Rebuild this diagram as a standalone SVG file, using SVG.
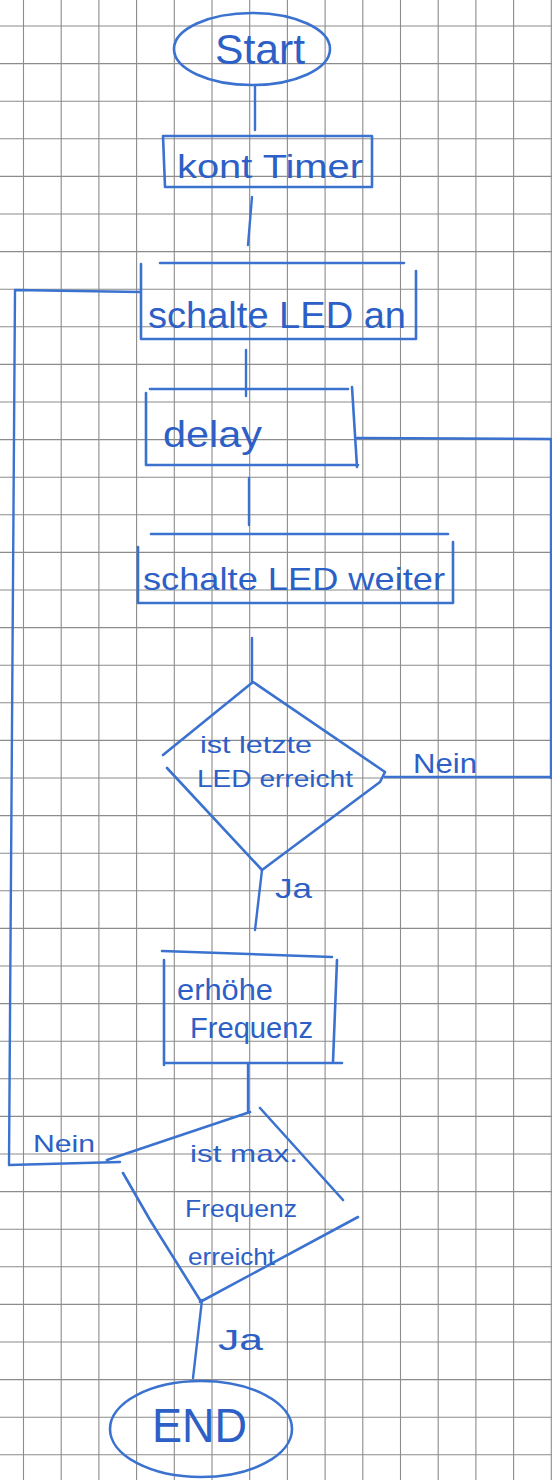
<svg xmlns="http://www.w3.org/2000/svg" width="552" height="1480" viewBox="0 0 552 1480">
<style>
.grid{stroke:#8c8c8c;stroke-width:1.1;fill:none}
.ink{stroke:#3b72d0;stroke-width:2.6;fill:none;stroke-linecap:round;stroke-linejoin:round}
.con{stroke:#3b72d0;stroke-width:2.4;fill:none;stroke-linecap:round;stroke-linejoin:round}
text{font-family:"Liberation Sans","DejaVu Sans",sans-serif;fill:#2d60c6}
</style>
<rect x="0" y="0" width="552" height="1480" fill="#ffffff"/>
<path class="grid" d="M23.5,0V1480M61.2,0V1480M98.9,0V1480M136.6,0V1480M174.3,0V1480M212,0V1480M249.7,0V1480M287.4,0V1480M325.1,0V1480M362.8,0V1480M400.5,0V1480M438.2,0V1480M475.9,0V1480M513.6,0V1480M551.3,0V1480
M0,26H552M0,63.6H552M0,101.2H552M0,138.8H552M0,176.4H552M0,214H552M0,251.6H552M0,289.2H552M0,326.8H552M0,364.4H552M0,402H552M0,439.6H552M0,477.2H552M0,514.8H552M0,552.4H552M0,590H552M0,627.6H552M0,665.2H552M0,702.8H552M0,740.4H552M0,778H552M0,815.6H552M0,853.2H552M0,890.8H552M0,928.4H552M0,966H552M0,1003.6H552M0,1041.2H552M0,1078.8H552M0,1116.4H552M0,1154H552M0,1191.6H552M0,1229.2H552M0,1266.8H552M0,1304.4H552M0,1342H552M0,1379.6H552M0,1417.2H552M0,1454.8H552"/>
<g id="connectors">
<path class="con" d="M255,85V130"/>
<path class="con" d="M252,197L248,245"/>
<path class="con" d="M246,350V396"/>
<path class="con" d="M249,478V525"/>
<path class="con" d="M252,638V683"/>
<path class="con" d="M262,870L255,930"/>
<path class="con" d="M385,777H552"/>
<path class="con" d="M357,438L551,439V778"/>
<path class="con" d="M248,1063V1112"/>
<path class="con" d="M120,1162L9,1165L15,290L140,292"/>
<path class="con" d="M202,1300L193,1378"/>
<text x="413" y="773" font-size="28" textLength="64" lengthAdjust="spacingAndGlyphs">Nein</text>
<text x="275" y="898" font-size="28" textLength="37" lengthAdjust="spacingAndGlyphs">Ja</text>
<text x="33" y="1152" font-size="24" textLength="62" lengthAdjust="spacingAndGlyphs">Nein</text>
<text x="218" y="1350" font-size="30" textLength="45" lengthAdjust="spacingAndGlyphs">Ja</text>
</g>
<g id="start">
<ellipse class="ink" cx="252" cy="49" rx="78" ry="36"/>
<text x="215" y="64" font-size="42" textLength="90" lengthAdjust="spacingAndGlyphs">Start</text>
</g>
<g id="kont-timer">
<path class="ink" d="M163,136H372V187H165Z"/>
<text x="177" y="178" font-size="34" textLength="186" lengthAdjust="spacingAndGlyphs">kont Timer</text>
</g>
<g id="schalte-led-an">
<path class="ink" d="M160,263H404M141,264V339H416V271"/>
<text x="148" y="328" font-size="36" textLength="258" lengthAdjust="spacingAndGlyphs">schalte LED an</text>
</g>
<g id="delay">
<path class="ink" d="M150,389H348M146,393V465H358M352,387L357,467"/>
<text x="163" y="447" font-size="36" textLength="99" lengthAdjust="spacingAndGlyphs">delay</text>
</g>
<g id="schalte-led-weiter">
<path class="ink" d="M151,534H448M138,547V603H453V542"/>
<text x="143" y="590" font-size="32" textLength="302" lengthAdjust="spacingAndGlyphs">schalte LED weiter</text>
</g>
<g id="ist-letzte-led">
<path class="ink" d="M163,755L253,682L385,772L380,782L262,870L167,768"/>
<text x="200" y="753" font-size="24" textLength="112" lengthAdjust="spacingAndGlyphs">ist letzte</text>
<text x="197" y="787" font-size="24" textLength="156" lengthAdjust="spacingAndGlyphs">LED erreicht</text>
</g>
<g id="erhoehe-frequenz">
<path class="ink" d="M162,951L332,957M164,960V1065M337,960L333,1062M164,1063H342"/>
<text x="177" y="1000" font-size="30" textLength="96" lengthAdjust="spacingAndGlyphs">erhöhe</text>
<text x="190" y="1038" font-size="30" textLength="123" lengthAdjust="spacingAndGlyphs">Frequenz</text>
</g>
<g id="ist-max-frequenz">
<path class="ink" d="M250,1112L107,1160M260,1108L343,1200M358,1217L200,1302M123,1173L150,1220L200,1300"/>
<text x="190" y="1162" font-size="24" textLength="108" lengthAdjust="spacingAndGlyphs">ist max.</text>
<text x="185" y="1217" font-size="24" textLength="112" lengthAdjust="spacingAndGlyphs">Frequenz</text>
<text x="188" y="1265" font-size="24" textLength="87" lengthAdjust="spacingAndGlyphs">erreicht</text>
</g>
<g id="end">
<ellipse class="ink" cx="201" cy="1429" rx="91" ry="48"/>
<text x="152" y="1442" font-size="48" textLength="95" lengthAdjust="spacingAndGlyphs">END</text>
</g>
</svg>
